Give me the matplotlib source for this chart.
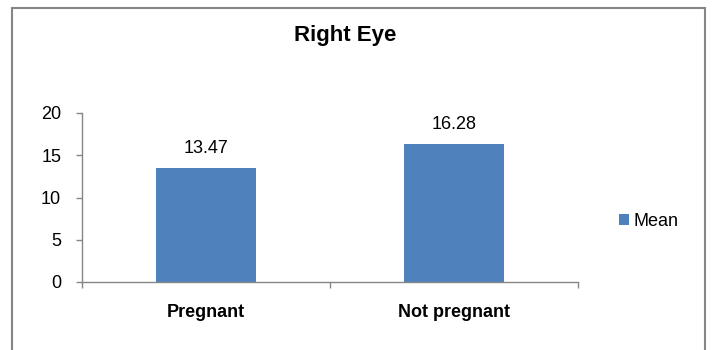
import matplotlib.pyplot as plt
from matplotlib.patches import Rectangle

plt.rcParams['font.family'] = ['Liberation Sans', 'DejaVu Sans']

categories = ['Pregnant', 'Not pregnant']
mean_values = [13.47, 16.28]
y_ticks = [0, 5, 10, 15, 20]

bar_color = '#4F81BD'
axis_color = '#868686'

W, H = 712, 350
fig = plt.figure(figsize=(W / 100, H / 100), dpi=100)

# plot area in pixel coordinates
x0, x1 = 82, 578
y0, y1 = 282, 113
ax = fig.add_axes([x0 / W, 1 - y0 / H, (x1 - x0) / W, (y0 - y1) / H])

xs = range(len(categories))
bars = ax.bar(xs, mean_values, width=0.4, color=bar_color, label='Mean', zorder=2)
for x, v in zip(xs, mean_values):
    ax.annotate(f'{v:.2f}', (x, v), xytext=(0, 11), textcoords='offset points',
                ha='center', va='baseline', fontsize=13, color='#000000')

ax.set_xlim(-0.5, len(categories) - 0.5)
ax.set_ylim(0, 20)
ax.set_yticks(y_ticks)
ax.tick_params(axis='y', direction='out', length=4, width=1, color=axis_color,
               labelsize=13, pad=11)
ax.set_xticks([-0.5, 0.5, 1.5])
ax.set_xticklabels([])
ax.tick_params(axis='x', direction='out', length=4, width=1, color=axis_color)
ax.set_xticks(list(xs), minor=True)
ax.set_xticklabels(categories, minor=True, fontsize=13, fontweight='bold')
ax.tick_params(axis='x', which='minor', length=0, pad=16)

for side in ['top', 'right']:
    ax.spines[side].set_visible(False)
for side in ['left', 'bottom']:
    ax.spines[side].set_color(axis_color)
    ax.spines[side].set_linewidth(1)

fig.text(345 / W, 1 - 35 / H, 'Right Eye', ha='center', va='center',
         fontsize=16, fontweight='bold')

ax.legend(loc='center left', bbox_to_anchor=(619 / W, 1 - 221 / H),
          bbox_transform=fig.transFigure, frameon=False, fontsize=13,
          handlelength=0.55, handleheight=0.55, handletextpad=0.25,
          borderpad=0, borderaxespad=0)

# outer chart border, open at the bottom edge
fig.patches.append(Rectangle((12 / W, -0.1), (705 - 12) / W, 1.1 - 8 / H,
                             transform=fig.transFigure, fill=False,
                             edgecolor=axis_color, linewidth=1.5))

fig.savefig('out.png', dpi=100)
